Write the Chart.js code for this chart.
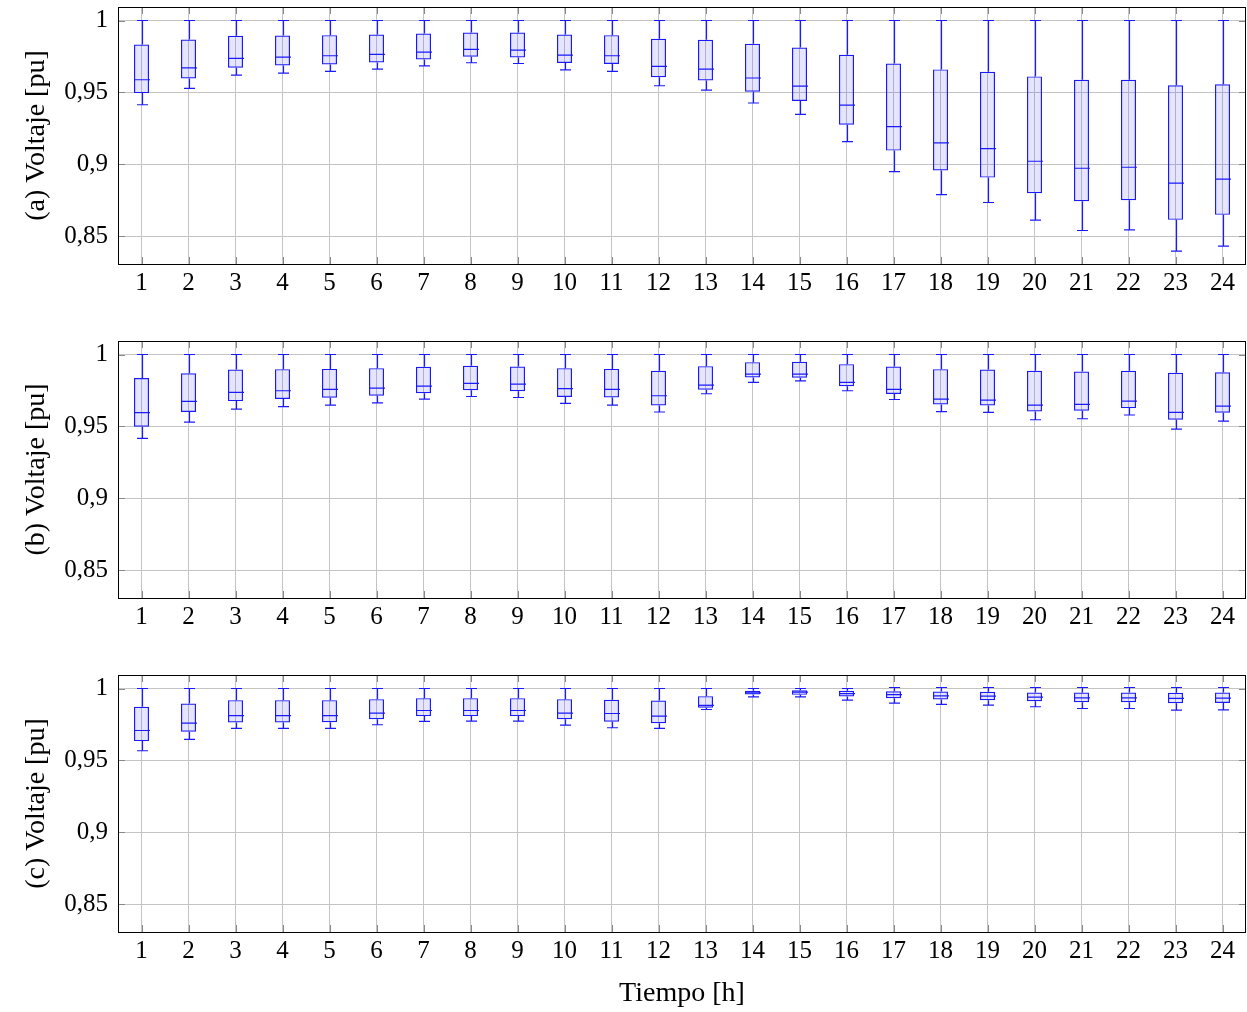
<!DOCTYPE html>
<html>
<head>
<meta charset="utf-8">
<script src="https://cdn.jsdelivr.net/npm/chart.js@4/dist/chart.umd.min.js"></script>
<style>
  body { margin: 0; background: #fff; }
  canvas { position: absolute; left: 0; }
</style>
</head>
<body>
<canvas id="panelA" width="1247" height="300" style="top:0"></canvas>
<canvas id="panelB" width="1247" height="300" style="top:334px"></canvas>
<canvas id="panelC" width="1247" height="344" style="top:668px"></canvas>
<script>
const horas = ['1','2','3','4','5','6','7','8','9','10','11','12','13','14','15','16','17','18','19','20','21','22','23','24'];
const ticksY = [0.85, 0.9, 0.95, 1];

// (a)
const minA = [0.9414,0.9528,0.9620,0.9634,0.9646,0.9662,0.9685,0.9706,0.9701,0.9657,0.9646,0.9546,0.9516,0.9426,0.9347,0.9157,0.8949,0.8789,0.8734,0.8611,0.8539,0.8544,0.8396,0.8430];
const q1A  = [0.9495,0.9597,0.9671,0.9687,0.9694,0.9708,0.9729,0.9748,0.9743,0.9704,0.9697,0.9606,0.9583,0.9505,0.9440,0.9275,0.9095,0.8956,0.8907,0.8799,0.8743,0.8750,0.8613,0.8648];
const medA = [0.9588,0.9671,0.9736,0.9745,0.9755,0.9764,0.9780,0.9799,0.9794,0.9759,0.9755,0.9681,0.9662,0.9600,0.9544,0.9412,0.9262,0.9148,0.9109,0.9021,0.8972,0.8979,0.8868,0.8896];
const q3A  = [0.9833,0.9868,0.9894,0.9896,0.9898,0.9903,0.9910,0.9917,0.9917,0.9903,0.9898,0.9873,0.9866,0.9838,0.9812,0.9762,0.9701,0.9660,0.9644,0.9611,0.9588,0.9588,0.9549,0.9556];
const maxA = [1,1,1,1,1,1,1,1,1,1,1,1,1,1,1,1,1,1,1,1,1,1,1,1];

// (b)
const minB = [0.9417,0.9530,0.9620,0.9637,0.9648,0.9664,0.9690,0.9708,0.9701,0.9660,0.9648,0.9600,0.9727,0.9806,0.9817,0.9748,0.9687,0.9602,0.9597,0.9546,0.9553,0.9579,0.9481,0.9537];
const q1B  = [0.9498,0.9600,0.9676,0.9690,0.9699,0.9713,0.9731,0.9752,0.9745,0.9704,0.9701,0.9646,0.9755,0.9840,0.9838,0.9780,0.9725,0.9653,0.9646,0.9604,0.9609,0.9627,0.9546,0.9595];
const medB = [0.9595,0.9674,0.9736,0.9748,0.9757,0.9766,0.9780,0.9799,0.9794,0.9762,0.9757,0.9713,0.9787,0.9863,0.9863,0.9806,0.9757,0.9690,0.9683,0.9648,0.9653,0.9676,0.9597,0.9641];
const q3B  = [0.9836,0.9870,0.9896,0.9898,0.9900,0.9905,0.9914,0.9921,0.9917,0.9905,0.9900,0.9887,0.9919,0.9947,0.9949,0.9933,0.9917,0.9898,0.9896,0.9887,0.9882,0.9887,0.9873,0.9877];
const maxB = [1,1,1,1,1,1,1,1,1,1,1,1,1,1,1,1,1,1,1,1,1,1,1,1];

// (c)
const minC = [0.9567,0.9646,0.9722,0.9722,0.9722,0.9748,0.9771,0.9773,0.9773,0.9745,0.9727,0.9722,0.9854,0.9942,0.9942,0.9919,0.9898,0.9889,0.9884,0.9873,0.9861,0.9861,0.9850,0.9852];
const q1C  = [0.9634,0.9699,0.9764,0.9764,0.9766,0.9787,0.9808,0.9808,0.9808,0.9787,0.9769,0.9759,0.9866,0.9958,0.9956,0.9944,0.9933,0.9924,0.9919,0.9912,0.9905,0.9905,0.9898,0.9900];
const medC = [0.9708,0.9759,0.9812,0.9812,0.9812,0.9829,0.9847,0.9847,0.9847,0.9829,0.9826,0.9808,0.9882,0.9970,0.9975,0.9965,0.9958,0.9949,0.9947,0.9940,0.9935,0.9935,0.9931,0.9933];
const q3C  = [0.9873,0.9896,0.9919,0.9919,0.9919,0.9926,0.9933,0.9933,0.9933,0.9926,0.9921,0.9917,0.9947,0.9984,0.9988,0.9984,0.9981,0.9979,0.9977,0.9972,0.9972,0.9972,0.9970,0.9972];
const maxC = [1,1,1,1,1,1,1,1,1,1,1,1,1,1,1,1,1.0007,1.0007,1.0007,1.0007,1.0007,1.0007,1.0007,1.0007];

const azul = '#1a1aff';
const fuenteTicks = { family: '"Liberation Serif", serif', size: 25 };
const fuenteTitulo = { family: '"Liberation Serif", serif', size: 28 };

// bigotes, medianas, marco y marcas
const cajas = {
  id: 'cajas',
  afterDatasetsDraw(chart) {
    const { ctx, scales: { x, y } } = chart;
    const ds = chart.data.datasets[0];
    const meta = chart.getDatasetMeta(0);
    ctx.save();
    ctx.strokeStyle = azul;
    ctx.lineWidth = 1.2;
    meta.data.forEach((bar, i) => {
      const cx = Math.round(x.getPixelForValue(i)) + 0.5;
      const half = bar.width / 2;
      const [lo, hi] = ds.data[i];
      const yMin = y.getPixelForValue(ds.minimos[i]);
      const yMax = y.getPixelForValue(ds.maximos[i]);
      const yLo = y.getPixelForValue(lo);
      const yHi = y.getPixelForValue(hi);
      const yMed = y.getPixelForValue(ds.medianas[i]);
      ctx.beginPath();
      ctx.moveTo(cx, yHi); ctx.lineTo(cx, yMax);
      ctx.moveTo(cx, yLo); ctx.lineTo(cx, yMin);
      ctx.moveTo(cx - 5.5, yMax); ctx.lineTo(cx + 5.5, yMax);
      ctx.moveTo(cx - 5.5, yMin); ctx.lineTo(cx + 5.5, yMin);
      ctx.moveTo(cx - half, yMed); ctx.lineTo(cx + half, yMed);
      ctx.stroke();
    });
    ctx.restore();
  },
  afterDraw(chart) {
    const { ctx, chartArea: a, scales: { x, y } } = chart;
    ctx.save();
    ctx.strokeStyle = '#888';
    ctx.lineWidth = 1;
    ctx.beginPath();
    horas.forEach((h, i) => {
      const px = Math.round(x.getPixelForValue(i)) + 0.5;
      ctx.moveTo(px, a.top); ctx.lineTo(px, a.top + 7);
      ctx.moveTo(px, a.bottom); ctx.lineTo(px, a.bottom - 7);
    });
    ticksY.forEach(v => {
      const py = Math.round(y.getPixelForValue(v)) + 0.5;
      ctx.moveTo(a.left, py); ctx.lineTo(a.left + 7, py);
      ctx.moveTo(a.right, py); ctx.lineTo(a.right - 7, py);
    });
    ctx.stroke();
    ctx.strokeStyle = '#000';
    ctx.strokeRect(Math.round(a.left) + 0.5, Math.round(a.top) + 0.5, Math.round(a.right - a.left) - 1, Math.round(a.bottom - a.top));
    ctx.restore();
  }
};

function crearPanel(id, letra, min, q1, med, q3, max, ultimo) {
  return new Chart(document.getElementById(id), {
    type: 'bar',
    data: {
      labels: horas,
      datasets: [{
        data: q1.map((v, i) => [v, q3[i]]),
        minimos: min,
        medianas: med,
        maximos: max,
        backgroundColor: 'rgba(0,0,255,0.1)',
        borderColor: azul,
        borderWidth: 1.2,
        borderSkipped: false,
        barPercentage: 0.32,
        categoryPercentage: 1
      }]
    },
    options: {
      responsive: false,
      animation: false,
      layout: { padding: { top: 7, right: 1, left: 0, bottom: 0 } },
      plugins: { legend: { display: false }, tooltip: { enabled: false } },
      scales: {
        x: {
          grid: { offset: false, color: '#c4c4c4', drawTicks: false },
          border: { display: false },
          ticks: { color: '#000', font: fuenteTicks, padding: 4, maxRotation: 0, autoSkip: false },
          title: { display: ultimo, text: 'Tiempo [h]', color: '#000', font: fuenteTitulo, padding: { top: 0, bottom: 2 } },
          afterFit: s => { s.height = ultimo ? 80 : 36; s.paddingLeft = 0; s.paddingRight = 0; }
        },
        y: {
          min: 0.8306,
          max: 1.0094,
          afterBuildTicks: s => { s.ticks = ticksY.map(v => ({ value: v })); },
          grid: { color: '#c4c4c4', drawTicks: false },
          border: { display: false },
          ticks: { color: '#000', font: fuenteTicks, padding: 10, callback: v => String(v).replace('.', ',') },
          title: { display: true, text: `(${letra}) Voltaje [pu]`, color: '#000', font: fuenteTitulo, padding: { top: 20, bottom: 0 } },
          afterFit: s => { s.width = 118; s.paddingTop = 0; s.paddingBottom = 0; }
        }
      }
    },
    plugins: [cajas]
  });
}

crearPanel('panelA', 'a', minA, q1A, medA, q3A, maxA, false);
crearPanel('panelB', 'b', minB, q1B, medB, q3B, maxB, false);
crearPanel('panelC', 'c', minC, q1C, medC, q3C, maxC, true);
</script>
</body>
</html>
